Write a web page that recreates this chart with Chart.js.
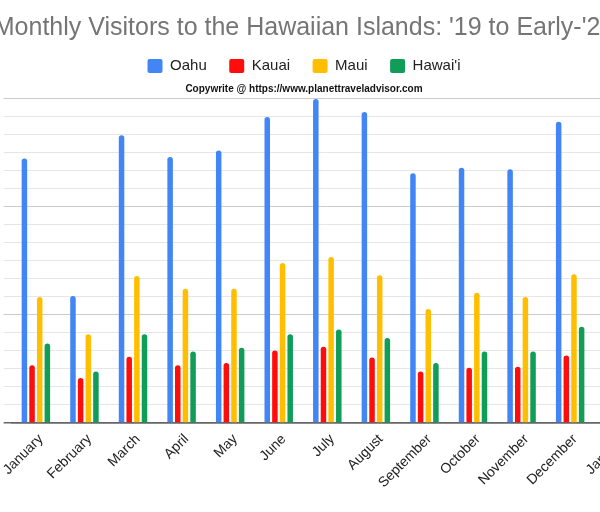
<!DOCTYPE html>
<html>
<head>
<meta charset="utf-8">
<title>Monthly Visitors to the Hawaiian Islands</title>
<script src="https://cdn.jsdelivr.net/npm/chart.js@4.4.1/dist/chart.umd.min.js"></script>
<style>
    html, body { margin: 0; padding: 0; background: #fff; }
    /* the original picture is a crop of a wider chart, so the canvas overhangs both sides */
    #frame { position: relative; width: 600px; height: 512px; overflow: hidden; background: #fff; }
    #wrap { position: absolute; left: -35px; top: 0; width: 678px; height: 512px; }
</style>
</head>
<body>
<div id="frame">
    <div id="wrap"><canvas id="visitors"></canvas></div>
</div>
<script>
// Categories (the 13th month is only partly in view)
const months = ['January', 'February', 'March', 'April', 'May', 'June', 'July',
    'August', 'September', 'October', 'November', 'December', 'January'];

// Visitors per month
const oahu = [489000, 235000, 532000, 492000, 504000, 566000, 599000, 575000, 462000, 472000, 469000, 557000];
const kauai = [106600, 83000, 122500, 106600, 111000, 134000, 141000, 121000, 95000, 102000, 104000, 125000];
const maui = [233000, 164000, 272000, 248000, 248000, 296000, 307000, 273000, 211000, 241000, 233000, 275000];
const hawaii = [147000, 95000, 164000, 132000, 139000, 164000, 173000, 157000, 111000, 132000, 132000, 178000];

// Y axis range and number of grid lines
const yMax = 600000;
const yTickCount = 19;

const chartTitle = "Monthly Visitors to the Hawaiian Islands: '19 to Early-'20";
const copyText = 'Copywrite @ https://www.planettraveladvisor.com';

Chart.defaults.font.family = '"Liberation Sans", Arial, sans-serif';

function makeDataset(label, data, color) {
    return {
        label: label,
        data: data,
        backgroundColor: color,
        borderWidth: 0,
        borderRadius: 3,
        borderSkipped: 'start',
        categoryPercentage: 0.63,
        barPercentage: 0.72
    };
}

const ctx = document.getElementById('visitors').getContext('2d');

new Chart(ctx, {
    type: 'bar',
    data: {
        labels: months,
        datasets: [
            makeDataset('Oahu', oahu, '#4285f4'),
            makeDataset('Kauai', kauai, '#ff0d0d'),
            makeDataset('Maui', maui, '#ffbf00'),
            makeDataset("Hawai'i", hawaii, '#0f9d58')
        ]
    },
    options: {
        responsive: true,
        maintainAspectRatio: false,
        animation: false,
        layout: {
            padding: 0
        },
        scales: {
            x: {
                z: 1,
                grid: { display: false, drawTicks: false },
                border: { display: true, color: '#666', width: 1.5 },
                ticks: {
                    autoSkip: false,
                    maxRotation: 45,
                    minRotation: 45,
                    padding: 8,
                    labelOffset: 5,
                    color: '#222',
                    font: { size: 14 }
                },
                afterFit: (scale) => { scale.height = 89; }
            },
            y: {
                min: 0,
                max: yMax,
                border: { display: false },
                ticks: { display: false, count: yTickCount },
                grid: {
                    drawTicks: true,
                    tickLength: 8,
                    color: (c) => c.index === 0 ? '#666' : (c.index % 6 === 0 ? '#cccccc' : '#e6e6e6'),
                    lineWidth: (c) => c.index === 0 ? 1.5 : 1
                },
                afterFit: (scale) => { scale.width = 46.6; }
            }
        },
        plugins: {
            title: {
                display: true,
                text: chartTitle,
                color: '#757575',
                font: { size: 25, weight: 'normal', lineHeight: 0.8 },
                padding: { top: 18, bottom: -2 }
            },
            legend: {
                display: true,
                position: 'top',
                labels: {
                    boxWidth: 15,
                    boxHeight: 14,
                    padding: 22.5,
                    color: '#222',
                    useBorderRadius: true,
                    borderRadius: 2,
                    font: { size: 15 }
                }
            },
            subtitle: {
                display: true,
                text: copyText,
                weight: 500,
                color: '#111',
                font: { size: 10, weight: 'bold' },
                padding: { top: 0, bottom: 3 }
            },
            tooltip: { enabled: false }
        }
    }
});
</script>
</body>
</html>
